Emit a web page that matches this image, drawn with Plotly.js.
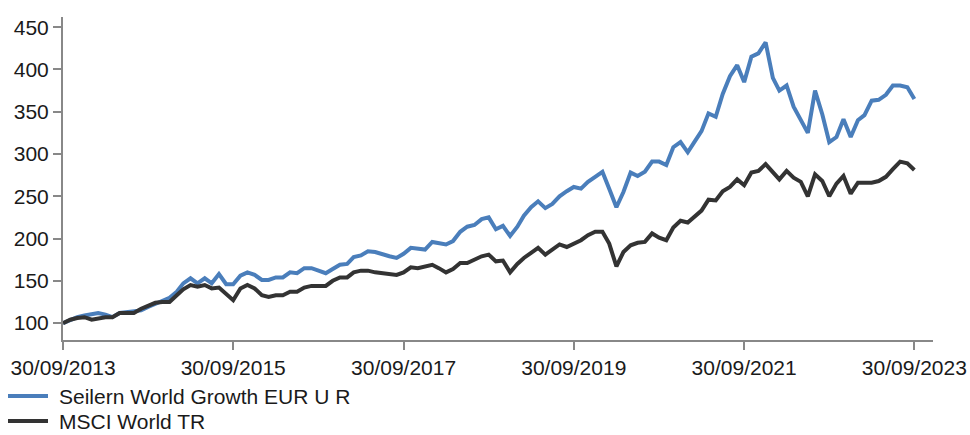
<!DOCTYPE html>
<html>
<head>
<meta charset="utf-8">
<script src="https://cdn.plot.ly/plotly-3.0.1.min.js"></script>
<style>html,body{margin:0;padding:0;background:#fff;}#chart{width:970px;height:435px;}</style>
</head>
<body>
<div id="chart"></div>
<script>
// Monthly observations, 30/09/2013 .. 30/09/2023 (121 month-ends)
const startYear = 2013, startMonth = 9, nMonths = 121;

const seilern = [
  100,104,107,109,110,112,110,107,112,113,113,115,119,123,126,130,137,147,153,147,
  153,147,158,146,146,156,160,157,151,151,154,154,160,159,165,165,162,159,164,169,
  170,178,180,185,184,181,179,177,182,189,188,187,196,195,193,197,208,214,216,223,
  225,211,215,203,214,227,237,244,236,241,250,256,261,259,267,273,279,259,237,255,
  278,274,279,291,291,287,308,314,302,314,327,348,344,371,392,405,385,415,419,432,
  390,375,381,356,339,325,375,347,314,320,341,320,340,346,363,364,370,381,381,379,
  365
];

const msci = [
  100,104,106,107,104,106,107,107,112,112,112,117,121,124,125,125,133,140,145,143,
  145,141,142,134,127,141,145,141,133,131,133,133,137,137,142,144,144,144,150,154,
  154,160,162,162,160,159,158,157,160,166,165,167,169,165,160,164,171,171,175,179,
  181,173,174,160,170,177,183,189,181,187,193,190,194,198,204,208,208,194,167,184,
  192,195,196,206,201,198,213,221,219,225,233,246,245,256,261,270,263,278,280,288,
  279,270,280,272,267,250,276,268,250,265,274,253,266,266,266,268,273,282,291,289,
  281
];

const seriesNames = ['Seilern World Growth EUR U R', 'MSCI World TR'];
const seriesColors = ['#4a7ebb', '#333333'];

const xTickVals = ['2013-09-30','2015-09-30','2017-09-30','2019-09-30','2021-09-30','2023-09-30'];
const xTickText = ['30/09/2013','30/09/2015','30/09/2017','30/09/2019','30/09/2021','30/09/2023'];
const yTickVals = [100,150,200,250,300,350,400,450];

// month-end dates
function pad(n){return (n<10?'0':'')+n;}
const dates = [];
for (let i = 0; i < nMonths; i++) {
  const mIdx = startMonth - 1 + i;
  const y = startYear + Math.floor(mIdx / 12);
  const m = (mIdx % 12) + 1;
  const last = new Date(Date.UTC(y, m, 0)).getUTCDate();
  dates.push(y + '-' + pad(m) + '-' + pad(last));
}

const font = {family: 'Liberation Sans, Arial, sans-serif', size: 21, color: '#1a1a1a'};

const traces = [seilern, msci].map((vals, k) => ({
  type: 'scatter', mode: 'lines', x: dates, y: vals,
  name: seriesNames[k],
  line: {color: seriesColors[k], width: 4}
}));

// Legend drawn below the plot (paper coordinates; plot area is 870 x 323 px)
const W = 870, H = 323, L = 63, B = 340;
const legendRowsPx = [396, 421];
const shapes = [], annotations = [];
seriesNames.forEach((nm, k) => {
  const yp = (B - legendRowsPx[k]) / H;
  shapes.push({type: 'line', xref: 'paper', yref: 'paper',
    x0: (8 - L) / W, x1: (48 - L) / W, y0: yp, y1: yp,
    line: {color: seriesColors[k], width: 4}});
  annotations.push({xref: 'paper', yref: 'paper', x: (58 - L) / W, y: yp,
    xanchor: 'left', yanchor: 'middle', text: nm, showarrow: false,
    borderpad: 0, font: font});
});

const layout = {
  width: 970, height: 435,
  margin: {l: 63, r: 37, t: 17, b: 95, autoexpand: false},
  paper_bgcolor: '#fff', plot_bgcolor: '#fff',
  font: font,
  showlegend: false,
  shapes: shapes,
  annotations: annotations,
  xaxis: {
    type: 'date', range: ['2013-09-30', '2023-12-19'],
    showgrid: false, zeroline: false,
    showline: true, linecolor: '#888', linewidth: 2,
    ticks: 'outside', ticklen: 8, tickwidth: 2, tickcolor: '#888',
    tickmode: 'array', tickvals: xTickVals, ticktext: xTickText,
    tickfont: font
  },
  yaxis: {
    range: [80, 462],
    showgrid: false, zeroline: false,
    showline: true, linecolor: '#888', linewidth: 2,
    ticks: 'outside', ticklen: 8, tickwidth: 2, tickcolor: '#888',
    tickmode: 'array', tickvals: yTickVals,
    tickfont: font
  }
};

Plotly.newPlot('chart', traces, layout, {displayModeBar: false, staticPlot: true});
</script>
</body>
</html>
